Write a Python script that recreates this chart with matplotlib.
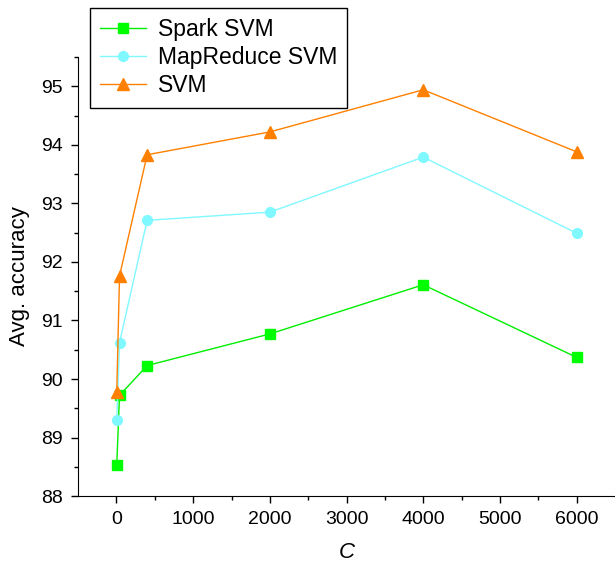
import numpy as np
import matplotlib.pyplot as plt

plt.rcParams['font.family'] = ['Liberation Sans', 'DejaVu Sans']

#------------------------------------------------------------------------------
C = [4, 40, 400, 2000, 4000, 6000]
spark_svm = [88.54, 89.72, 90.23, 90.77, 91.61, 90.37]
mapreduce_svm = [89.30, 90.62, 92.71, 92.85, 93.79, 92.49]
svm = [89.78, 91.76, 93.83, 94.22, 94.94, 93.88]
#------------------------------------------------------------------------------

fig = plt.figure(figsize=(6.15, 5.67), dpi=100)
ax = fig.add_axes([0.127, 0.125, 0.873, 0.7745])

ax.plot(C, spark_svm, '-s', c='#00ee00', mfc='#00ff00', mec='#00ff00',
        lw=1, ms=7, label='Spark SVM')
ax.plot(C, mapreduce_svm, '-o', c='#80f8ff', mfc='#80f8ff', mec='#80f8ff',
        lw=1, ms=7, label='MapReduce SVM')
ax.plot(C, svm, '-^', c='#ff8000', mfc='#ff7f00', mec='#ff7f00',
        lw=1, ms=8, label='SVM')

ax.set_xlim(-500, 6500)
ax.set_ylim(88, 95.5)
ax.set_xticks(np.arange(0, 6001, 1000))
ax.set_xticks(np.arange(500, 6001, 1000), minor=True)
ax.set_yticks(np.arange(88, 95.1, 1))
ax.set_yticks(np.arange(88.5, 95.6, 1), minor=True)
ax.tick_params(which='both', direction='out', labelsize=14, width=1)
ax.tick_params(which='major', length=5, pad=6)
ax.tick_params(which='minor', length=3)
for s in ['top', 'right']:
    ax.spines[s].set_visible(False)

ax.set_xlabel('C', fontsize=16, style='italic', labelpad=10)
ax.set_ylabel('Avg. accuracy', fontsize=16, labelpad=8)

leg = ax.legend(loc='upper left', bbox_to_anchor=(0.022, 1.112),
                borderaxespad=0, fontsize=16.5, fancybox=False,
                edgecolor='black', framealpha=1, handlelength=2.0,
                labelspacing=0.22, borderpad=0.45, handletextpad=0.5)
leg.get_frame().set_linewidth(1)

plt.savefig('out.png', dpi=100)
